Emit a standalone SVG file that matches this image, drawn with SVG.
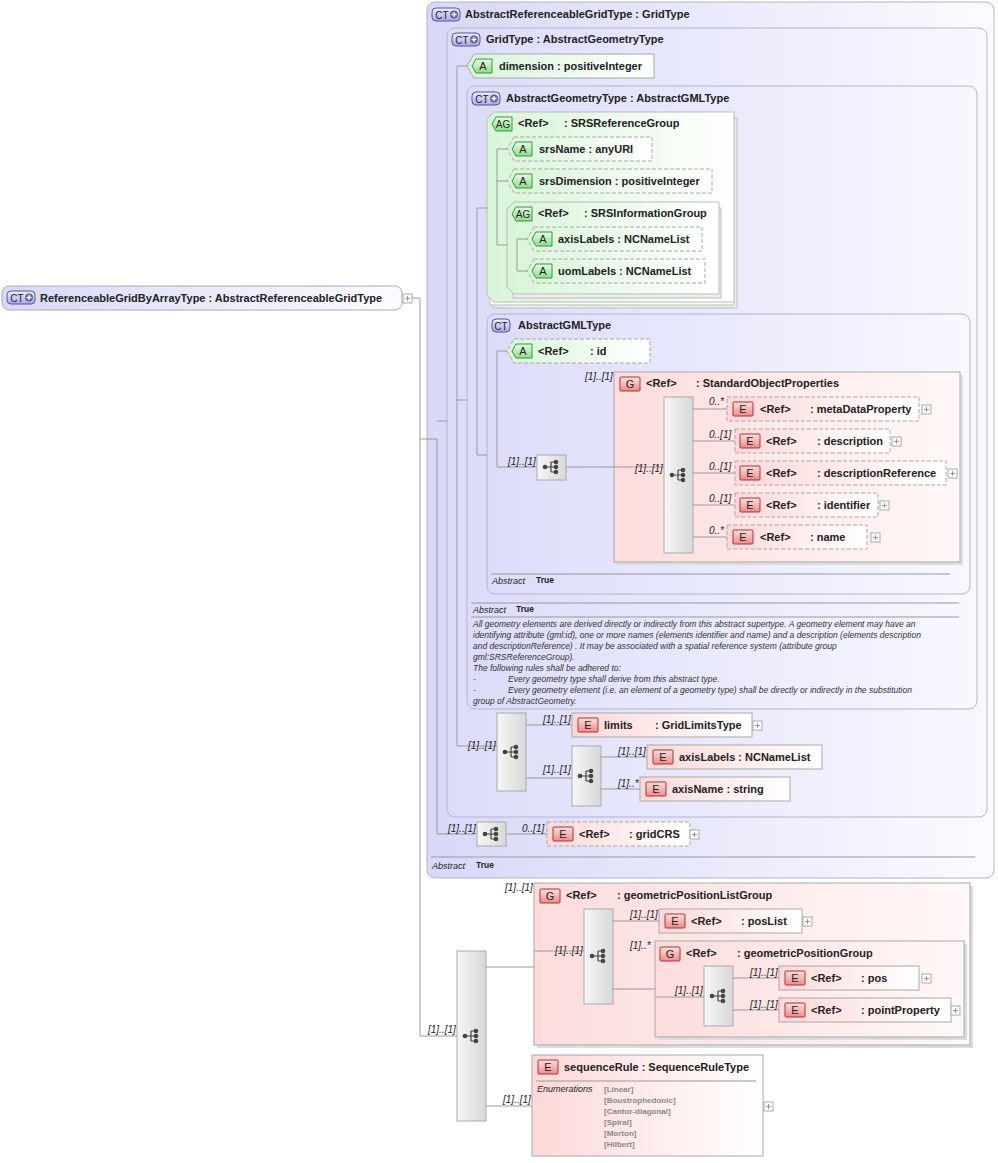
<svg xmlns="http://www.w3.org/2000/svg" width="998" height="1163" viewBox="0 0 998 1163">
<defs>
<linearGradient id="gCT" x1="0" y1="0" x2="1" y2="0"><stop offset="0" stop-color="#d8d8f8"/><stop offset="1" stop-color="#fbfbff"/></linearGradient>
<linearGradient id="gCTi" x1="0" y1="0" x2="1" y2="0"><stop offset="0" stop-color="#dcdcfa"/><stop offset="1" stop-color="#f8f8ff"/></linearGradient>
<linearGradient id="gA" x1="0" y1="0" x2="1" y2="0"><stop offset="0" stop-color="#d8f5d8"/><stop offset="1" stop-color="#ffffff"/></linearGradient>
<linearGradient id="gE" x1="0" y1="0" x2="1" y2="0"><stop offset="0" stop-color="#fdd8d8"/><stop offset="1" stop-color="#ffffff"/></linearGradient>
<linearGradient id="gG" x1="0" y1="0" x2="1" y2="0"><stop offset="0" stop-color="#fddcdc"/><stop offset="1" stop-color="#fff8f8"/></linearGradient>
<linearGradient id="gS" x1="0" y1="0" x2="1" y2="0"><stop offset="0" stop-color="#f6f6f6"/><stop offset="1" stop-color="#d8d8d8"/></linearGradient>
<linearGradient id="gBadgeE" x1="0" y1="0" x2="0" y2="1"><stop offset="0" stop-color="#fde0e0"/><stop offset="1" stop-color="#f08a8a"/></linearGradient>
<linearGradient id="gBadgeA" x1="0" y1="0" x2="0" y2="1"><stop offset="0" stop-color="#e8fbe8"/><stop offset="1" stop-color="#8edc8e"/></linearGradient>
<linearGradient id="gBadgeC" x1="0" y1="0" x2="0" y2="1"><stop offset="0" stop-color="#eeeeff"/><stop offset="1" stop-color="#a8a8e8"/></linearGradient>
<g id="seqi"><circle cx="-6" cy="0" r="2.3" fill="#444"/><path d="M-6 0H0M0-5V5M0-5H4M0 0H4M0 5H4" stroke="#444" stroke-width="1.2" fill="none"/><circle cx="5" cy="-5" r="2.3" fill="#444"/><circle cx="5" cy="0" r="2.3" fill="#444"/><circle cx="5" cy="5" r="2.3" fill="#444"/></g>
<g id="plus"><rect x="0" y="0" width="9" height="9" fill="#fff" stroke="#aaa"/><path d="M2 4.5H7M4.5 2V7" stroke="#999"/></g>
<g id="bE"><rect x="0" y="0" width="20" height="14" rx="1" fill="url(#gBadgeE)" stroke="#a33"/><text x="10" y="11" class="bt">E</text></g>
<g id="bG"><rect x="0" y="0" width="20" height="14" rx="1" fill="url(#gBadgeE)" stroke="#a33"/><text x="10" y="11" class="bt">G</text></g>
<g id="bA"><path d="M4 0H20V14H4L0 7Z" fill="url(#gBadgeA)" stroke="#393"/><text x="11" y="11" class="bt">A</text></g>
<g id="bAG"><path d="M4 0H20V14H4L0 7Z" fill="url(#gBadgeA)" stroke="#393"/><text x="11" y="11" class="bt" style="font-size:10px">AG</text></g>
<g id="bCT"><rect x="0" y="0" width="18" height="13" rx="4" fill="url(#gBadgeC)" stroke="#559"/><text x="9" y="10.5" class="bt" style="font-size:10px">CT</text></g>
<g id="bCTp"><rect x="0" y="0" width="28" height="13" rx="4" fill="url(#gBadgeC)" stroke="#559"/><text x="10" y="10.5" class="bt" style="font-size:10px">CT</text><circle cx="22" cy="6.5" r="4" fill="#668"/><path d="M19.5 6.5H24.5M22 4V9" stroke="#fff" stroke-width="1.3"/></g>
</defs>
<style>
text{font-family:"Liberation Sans",Arial,sans-serif;fill:#222}
.t{font-size:11px;font-weight:bold}
.bt{font-size:11px;text-anchor:middle;fill:#222}
.c{font-size:10px;font-style:italic}
.d{font-size:8.5px;font-style:italic;fill:#333}
.en{font-size:8px;fill:#888;font-weight:bold}
.ct{fill:url(#gCT);stroke:#b4b4cc}
.ci{fill:url(#gCTi);stroke:#b4b4cc}
.at{fill:url(#gA);stroke:#aaa}
.el{fill:url(#gE);stroke:#aaa}
.gr{fill:url(#gG);stroke:#aaa}
.sq{fill:url(#gS);stroke:#aaa}
.ds{stroke-dasharray:4,2}
.ln{stroke:#999;fill:none}
</style>
<g id="root"><rect x="2" y="286" width="400" height="24" rx="7" fill="url(#gCT)" stroke="#aab"/><use href="#bCTp" x="7" y="291"/><text x="40" y="302" class="t">ReferenceableGridByArrayType : AbstractReferenceableGridType</text><use href="#plus" x="403" y="294"/></g>
<g id="ARGT"><rect x="427" y="2" width="567" height="876" rx="8" class="ct"/><use href="#bCTp" x="432" y="8"/><text x="465" y="18" class="t">AbstractReferenceableGridType : GridType</text><path d="M431 857H975" stroke="#999"/><text x="432" y="869" class="c" style="font-size:9px">Abstract</text><text x="476" y="868" class="t" style="font-size:8.5px">True</text></g>
<g id="GT"><rect x="447" y="28" width="540" height="789" rx="8" class="ci"/><use href="#bCTp" x="452" y="33"/><text x="486" y="43" class="t">GridType : AbstractGeometryType</text></g>
<g id="dimension"><path d="M474 54H654V78H474L467 66Z" class="at"/><use href="#bA" x="472" y="59"/><text x="499" y="70" class="t">dimension : positiveInteger</text></g>
<g id="AGT"><rect x="467" y="86" width="510" height="623" rx="8" class="ci"/><use href="#bCTp" x="472" y="92"/><text x="506" y="102" class="t">AbstractGeometryType : AbstractGMLType</text>
<path d="M471 603H959M471 617H959" stroke="#999"/><text x="473" y="613" class="c" style="font-size:9px">Abstract</text><text x="516" y="612" class="t" style="font-size:8.5px">True</text>
<text class="d" xml:space="preserve"><tspan x="473" y="627">All geometry elements are derived directly or indirectly from this abstract supertype. A geometry element may have an</tspan><tspan x="473" y="638">identifying attribute (gml:id), one or more names (elements identifier and name) and a description (elements description</tspan><tspan x="473" y="649">and descriptionReference) . It may be associated with a spatial reference system (attribute group</tspan><tspan x="473" y="660">gml:SRSReferenceGroup).</tspan><tspan x="473" y="671">The following rules shall be adhered to:</tspan><tspan x="473" y="682">-</tspan><tspan x="508" y="682">Every geometry type shall derive from this abstract type.</tspan><tspan x="473" y="693">-</tspan><tspan x="508" y="693">Every geometry element (i.e. an element of a geometry type) shall be directly or indirectly in the substitution</tspan><tspan x="473" y="704">group of AbstractGeometry.</tspan></text></g>
<g id="SRSRef"><rect x="493" y="118" width="244" height="190" fill="#eee" stroke="#bbb"/><rect x="490" y="115" width="244" height="190" fill="#f4fff4" stroke="#bbb"/><path d="M494 112H734V302H494L487 295V119Z" fill="url(#gA)" stroke="#bbb"/><use href="#bAG" x="492" y="117"/><text x="518" y="127" class="t">&lt;Ref&gt;</text><text x="564" y="127" class="t">: SRSReferenceGroup</text></g>
<g id="srsName"><path d="M514 137H652V161H514L507 149Z" class="at ds"/><use href="#bA" x="512" y="142"/><text x="539" y="153" class="t">srsName : anyURI</text></g>
<g id="srsDimension"><path d="M514 169H712V193H514L507 181Z" class="at ds"/><use href="#bA" x="512" y="174"/><text x="539" y="185" class="t">srsDimension : positiveInteger</text></g>
<g id="SRSInfo"><rect x="513" y="208" width="208" height="90" fill="#eee" stroke="#bbb"/><path d="M514 202H719V294H514L507 287V209Z" fill="url(#gA)" stroke="#bbb"/><use href="#bAG" x="512" y="207"/><text x="538" y="217" class="t">&lt;Ref&gt;</text><text x="584" y="217" class="t">: SRSInformationGroup</text></g>
<g id="axisLabelsA"><path d="M534 227H702V251H534L527 239Z" class="at ds"/><use href="#bA" x="532" y="232"/><text x="558" y="243" class="t">axisLabels : NCNameList</text></g>
<g id="uomLabels"><path d="M534 259H705V283H534L527 271Z" class="at ds"/><use href="#bA" x="532" y="264"/><text x="558" y="275" class="t">uomLabels : NCNameList</text></g>
<g id="AGML"><rect x="487" y="314" width="483" height="280" rx="8" class="ci"/><use href="#bCT" x="492" y="319"/><text x="518" y="329" class="t">AbstractGMLType</text><path d="M491 574H950" stroke="#999"/><text x="492" y="584" class="c" style="font-size:9px">Abstract</text><text x="536" y="583" class="t" style="font-size:8.5px">True</text></g>
<g id="SOP"><rect x="617" y="375" width="346" height="190" fill="#ddd"/><rect x="614" y="372" width="346" height="190" class="gr"/><text x="585" y="380" class="c">[1]..[1]</text><use href="#bG" x="620" y="377"/><text x="646" y="387" class="t">&lt;Ref&gt;</text><text x="696" y="387" class="t">: StandardObjectProperties</text></g>
<g id="GPLG"><rect x="537" y="886" width="436" height="162" fill="#ddd"/><rect x="534" y="883" width="436" height="162" class="gr"/><text x="505" y="891" class="c">[1]..[1]</text><use href="#bG" x="540" y="889"/><text x="566" y="899" class="t">&lt;Ref&gt;</text><text x="617" y="899" class="t">: geometricPositionListGroup</text></g>
<g id="GPG"><rect x="658" y="944" width="309" height="96" fill="#ddd"/><rect x="655" y="941" width="309" height="96" class="gr"/><text x="630" y="949" class="c">[1]..*</text><use href="#bG" x="660" y="947"/><text x="686" y="957" class="t">&lt;Ref&gt;</text><text x="737" y="957" class="t">: geometricPositionGroup</text></g>
<g id="connectors" class="ln">
<path d="M412 298H420V1036H457M420 439H437V834H477M437 421H447M457 66H467M457 66V746H497M457 400H467M477 208V455M477 208H487M477 455H487M497 149V245H507M497 149H507M497 181H507M517 239V271H527M517 239H527M497 351V467H537M497 351H507M566 467H664M693 409H727M693 441H735M693 473H735M693 505H735M693 537H727M526 725H572M526 778H572M601 757H647M601 789H640M506 834H547M486 967H534M534 951H584M613 921H659M613 989H655M655 997H704M733 978H779M733 1010H779M486 1106H532"/>
</g>
<g id="idA"><path d="M514 339H650V363H514L507 351Z" class="at ds"/><use href="#bA" x="512" y="344"/><text x="538" y="355" class="t">&lt;Ref&gt;</text><text x="590" y="355" class="t">: id</text></g>
<g id="seq1"><text x="508" y="465" class="c">[1]..[1]</text><rect x="537" y="455" width="29" height="25" class="sq"/><use href="#seqi" x="551" y="467"/></g>
<g id="seq2"><text x="635" y="472" class="c">[1]..[1]</text><rect x="664" y="397" width="29" height="156" class="sq"/><use href="#seqi" x="678" y="475"/></g>
<g id="metaDataProperty"><text x="709" y="405" class="c">0..*</text><rect x="727" y="397" width="192" height="24" class="el ds"/><use href="#bE" x="733" y="402"/><text x="760" y="413" class="t">&lt;Ref&gt;</text><text x="810" y="413" class="t">: metaDataProperty</text><use href="#plus" x="922" y="405"/></g>
<g id="description"><text x="709" y="438" class="c">0..[1]</text><rect x="735" y="429" width="155" height="24" class="el ds"/><use href="#bE" x="740" y="434"/><text x="766" y="445" class="t">&lt;Ref&gt;</text><text x="817" y="445" class="t">: description</text><use href="#plus" x="892" y="437"/></g>
<g id="descriptionReference"><text x="709" y="470" class="c">0..[1]</text><rect x="735" y="461" width="211" height="24" class="el ds"/><use href="#bE" x="740" y="466"/><text x="766" y="477" class="t">&lt;Ref&gt;</text><text x="817" y="477" class="t">: descriptionReference</text><use href="#plus" x="948" y="469"/></g>
<g id="identifier"><text x="709" y="502" class="c">0..[1]</text><rect x="735" y="493" width="143" height="24" class="el ds"/><use href="#bE" x="740" y="498"/><text x="766" y="509" class="t">&lt;Ref&gt;</text><text x="817" y="509" class="t">: identifier</text><use href="#plus" x="880" y="501"/></g>
<g id="name"><text x="709" y="534" class="c">0..*</text><rect x="727" y="525" width="140" height="24" class="el ds"/><use href="#bE" x="733" y="530"/><text x="760" y="541" class="t">&lt;Ref&gt;</text><text x="810" y="541" class="t">: name</text><use href="#plus" x="871" y="533"/></g>
<g id="seq3"><text x="468" y="749" class="c">[1]..[1]</text><rect x="497" y="713" width="29" height="78" class="sq"/><use href="#seqi" x="511" y="752"/></g>
<g id="limits"><text x="543" y="723" class="c">[1]..[1]</text><rect x="572" y="713" width="180" height="24" class="el"/><use href="#bE" x="578" y="718"/><text x="604" y="729" class="t">limits</text><text x="655" y="729" class="t">: GridLimitsType</text><use href="#plus" x="753" y="721"/></g>
<g id="seq4"><text x="543" y="773" class="c">[1]..[1]</text><rect x="572" y="746" width="29" height="60" class="sq"/><use href="#seqi" x="586" y="776"/></g>
<g id="axisLabels"><text x="618" y="755" class="c">[1]..[1]</text><rect x="647" y="745" width="175" height="24" class="el"/><use href="#bE" x="653" y="750"/><text x="679" y="761" class="t">axisLabels : NCNameList</text></g>
<g id="axisName"><text x="618" y="787" class="c">[1]..*</text><rect x="640" y="777" width="150" height="24" class="el"/><use href="#bE" x="646" y="782"/><text x="672" y="793" class="t">axisName : string</text></g>
<g id="seq5"><text x="448" y="832" class="c">[1]..[1]</text><rect x="477" y="822" width="29" height="24" class="sq"/><use href="#seqi" x="491" y="834"/></g>
<g id="gridCRS"><text x="522" y="832" class="c">0..[1]</text><rect x="547" y="822" width="143" height="24" class="el ds"/><use href="#bE" x="553" y="827"/><text x="579" y="838" class="t">&lt;Ref&gt;</text><text x="629" y="838" class="t">: gridCRS</text><use href="#plus" x="690" y="830"/></g>
<g id="seqMain"><text x="428" y="1033" class="c">[1]..[1]</text><rect x="457" y="951" width="29" height="170" class="sq"/><use href="#seqi" x="471" y="1036"/></g>
<g id="seq6"><text x="555" y="954" class="c">[1]..[1]</text><rect x="584" y="909" width="29" height="95" class="sq"/><use href="#seqi" x="598" y="956"/></g>
<g id="posList"><text x="630" y="918" class="c">[1]..[1]</text><rect x="659" y="909" width="143" height="24" class="el"/><use href="#bE" x="665" y="914"/><text x="691" y="925" class="t">&lt;Ref&gt;</text><text x="741" y="925" class="t">: posList</text><use href="#plus" x="803" y="917"/></g>
<g id="seq7"><text x="675" y="994" class="c">[1]..[1]</text><rect x="704" y="966" width="29" height="60" class="sq"/><use href="#seqi" x="718" y="996"/></g>
<g id="pos"><text x="750" y="976" class="c">[1]..[1]</text><rect x="779" y="966" width="140" height="24" class="el"/><use href="#bE" x="785" y="971"/><text x="811" y="982" class="t">&lt;Ref&gt;</text><text x="861" y="982" class="t">: pos</text><use href="#plus" x="922" y="974"/></g>
<g id="pointProperty"><text x="750" y="1008" class="c">[1]..[1]</text><rect x="779" y="998" width="172" height="24" class="el"/><use href="#bE" x="785" y="1003"/><text x="811" y="1014" class="t">&lt;Ref&gt;</text><text x="861" y="1014" class="t">: pointProperty</text><use href="#plus" x="951" y="1006"/></g>
<g id="sequenceRule"><text x="503" y="1103" class="c">[1]..[1]</text><rect x="532" y="1055" width="231" height="101" class="el"/><use href="#bE" x="538" y="1060"/><text x="564" y="1071" class="t">sequenceRule : SequenceRuleType</text><path d="M536 1081H756" stroke="#999"/><text x="537" y="1092" class="c" style="font-size:9px">Enumerations</text>
<text class="en"><tspan x="604" y="1092">[Linear]</tspan><tspan x="604" y="1103">[Boustrophedonic]</tspan><tspan x="604" y="1114">[Cantor-diagonal]</tspan><tspan x="604" y="1125">[Spiral]</tspan><tspan x="604" y="1136">[Morton]</tspan><tspan x="604" y="1147">[Hilbert]</tspan></text><use href="#plus" x="764" y="1102"/></g>
</svg>
